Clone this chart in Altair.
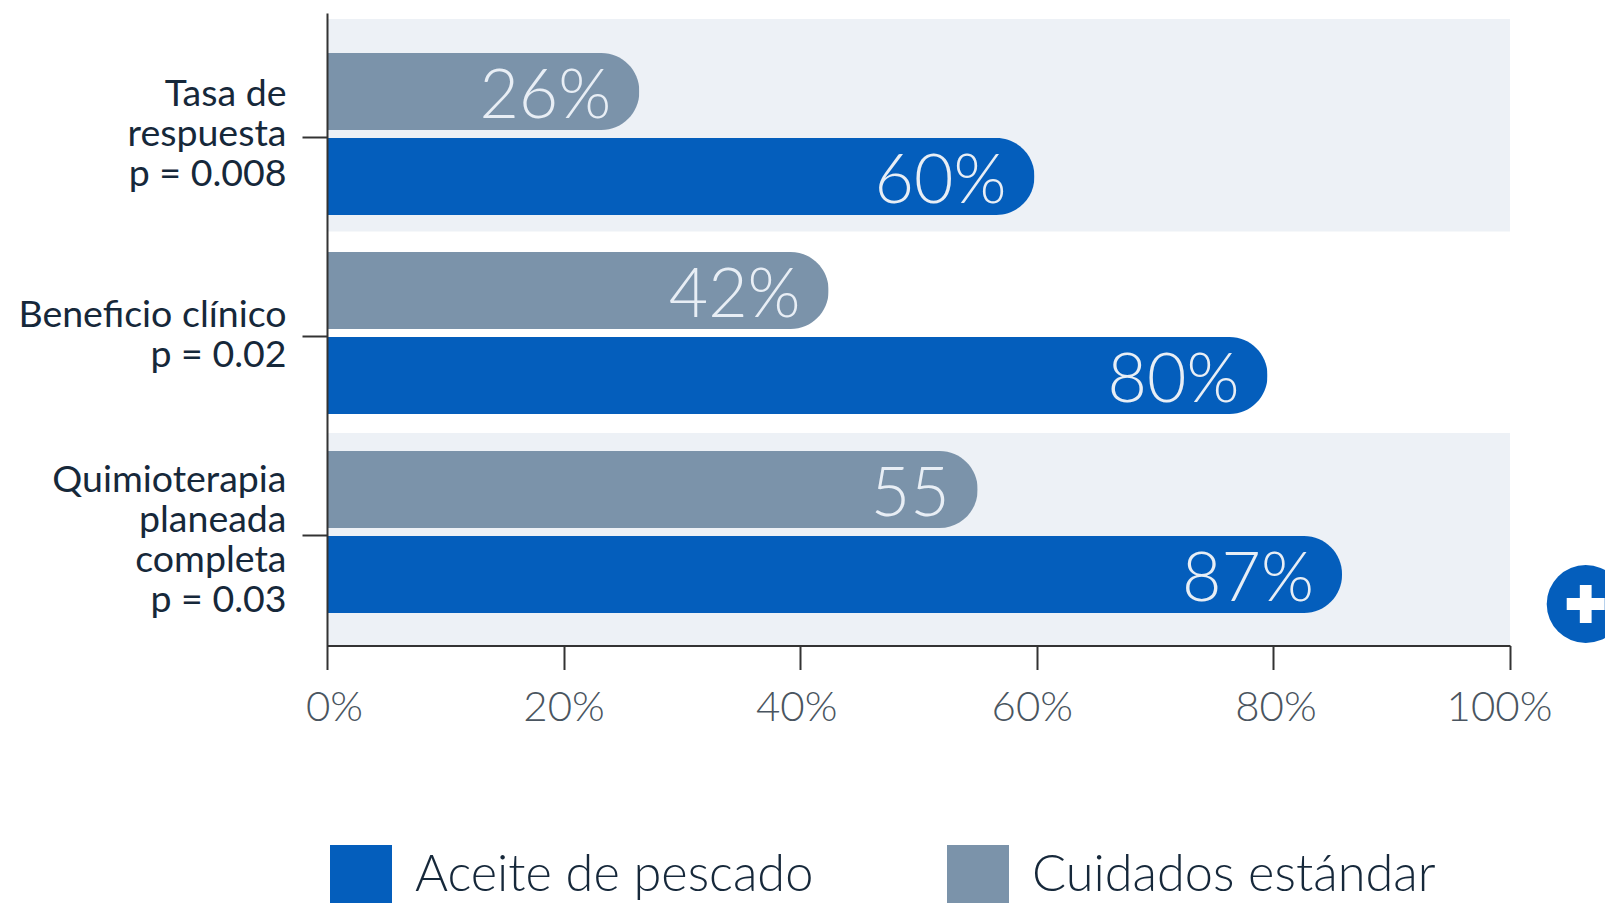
import altair as alt
import pandas as pd

categories = ["Tasa de\nrespuesta\np = 0.008", "Beneficio clínico\np = 0.02", "Quimioterapia\nplaneada\ncompleta\np = 0.03"]
series_names = ["Aceite de pescado", "Cuidados estándar"]
fish_oil = [59.8, 79.5, 85.8]
standard = [26.4, 42.4, 55.0]
fish_oil_labels = ["60%", "80%", "87%"]
standard_labels = ["26%", "42%", "55"]
stripe_rows = ["primera", "tercera"]
stripe_end = [100, 100]
ticks_x = [0, 20, 40, 60, 80, 100]

BLUE = "#045EBC"
GRAY = "#7B93AA"
FONT = "Lato"

rows = []
for c, v, l in zip(categories, fish_oil, fish_oil_labels):
    rows.append({"cat": c, "serie": series_names[0], "valor": v, "etiqueta": l})
for c, v, l in zip(categories, standard, standard_labels):
    rows.append({"cat": c, "serie": series_names[1], "valor": v, "etiqueta": l})
df = pd.DataFrame(rows)

x_scale = alt.Scale(domain=[0, 100], nice=False, zero=True)
x_axis = alt.Axis(
    values=ticks_x, title=None, grid=False, zindex=2,
    labelExpr="datum.value + '%'",
    domainColor="#333333", domainWidth=2, tickColor="#333333", tickWidth=2, tickSize=24,
    labelFont=FONT, labelFontSize=42, labelFontWeight=300, labelColor="#4A5560",
    labelPadding=18, labelFlush=False,
    labelOffset={
        "condition": [
            {"test": "datum.value == 0", "value": 7},
            {"test": "datum.value == 40", "value": -4},
            {"test": "datum.value == 60", "value": -5},
            {"test": "datum.value == 80", "value": 2},
            {"test": "datum.value == 100", "value": -11},
        ],
        "value": 0,
    },
)
y_enc = alt.Y(
    "cat:N",
    sort=categories,
    scale=alt.Scale(domain=categories, paddingInner=0, paddingOuter=0.0892, align=0.606),
    axis=alt.Axis(
        title=None, grid=False, zindex=2, labelExpr="split(datum.label, '\\n')",
        domainColor="#333333", domainWidth=2, tickColor="#333333", tickWidth=2, tickSize=25,
        tickOffset=3,
        labelFont=FONT, labelFontSize=37.5, labelColor="#16283A", labelLineHeight=40,
        labelPadding=16, labelLimit=400, labelAlign="right", labelBaseline="middle",
        labelOffset={
            "condition": [
                {"test": "indexof(datum.value, 'Tasa') >= 0", "value": -43},
                {"test": "indexof(datum.value, 'Quimio') >= 0", "value": -55},
            ],
            "value": -21,
        },
    ),
)
y_off = alt.YOffset(
    "serie:N",
    scale=alt.Scale(domain=[series_names[1], series_names[0]], paddingInner=0.094, paddingOuter=0.2176),
)

stripes = (
    alt.Chart(pd.DataFrame({"fila": stripe_rows, "inicio": [0, 0], "fin": stripe_end}))
    .mark_bar(color="#EDF1F6")
    .encode(
        x=alt.X("inicio:Q", scale=x_scale, axis=x_axis),
        x2="fin:Q",
        y=alt.Y("fila:N", axis=None,
                scale=alt.Scale(domain=stripe_rows, paddingInner=0.4867, paddingOuter=0.00725, align=1)),
    )
)

bars = (
    alt.Chart(df)
    .mark_bar(cornerRadiusEnd=38)
    .encode(
        x=alt.X("valor:Q", scale=x_scale, axis=x_axis),
        y=y_enc, yOffset=y_off,
        color=alt.Color(
            "serie:N",
            scale=alt.Scale(domain=series_names, range=[BLUE, GRAY]),
            legend=alt.Legend(
                title=None, orient="none", legendX=3, legendY=832, columns=2, direction="horizontal",
                symbolType="square", symbolSize=3844, symbolStrokeWidth=0, symbolOpacity=1,
                labelFont=FONT, labelFontSize=50.5, labelFontWeight=300, labelColor="#16283A",
                labelOffset=23, columnPadding=133, padding=0, labelLimit=600,
            ),
        ),
    )
)

labels = (
    alt.Chart(df)
    .mark_text(align="right", baseline="middle", dx=-28, dy=6, font=FONT, fontSize=68, fontWeight=300, color="#E8EEF5")
    .encode(x=alt.X("valor:Q", scale=x_scale), y=alt.Y("cat:N", sort=categories), yOffset=y_off, text="etiqueta:N")
)

plus_circle = (
    alt.Chart(pd.DataFrame({"valor": [106.4]}))
    .mark_point(filled=True, shape="circle", size=6084, color=BLUE, opacity=1)
    .encode(x=alt.X("valor:Q", scale=x_scale), y=alt.value(591))
)
plus_cross = (
    alt.Chart(pd.DataFrame({"valor": [106.4]}))
    .mark_point(filled=True, shape="M-1,-.31H-.31V-1H.31V-.31H1V.31H.31V1H-.31V.31H-1Z", size=1444, color="white", opacity=1)
    .encode(x=alt.X("valor:Q", scale=x_scale), y=alt.value(591))
)

main = alt.layer(bars, labels)
chart = (
    alt.layer(stripes, main, plus_circle, plus_cross)
    .resolve_scale(y="independent", yOffset="independent")
    .properties(
        width=1183, height=632.5,
        autosize=alt.AutoSizeParams(type="none"),
        padding={"left": 319, "top": 5, "right": 95, "bottom": 257.5},
        view=alt.ViewBackground(stroke="transparent", strokeWidth=0),
    )
    .configure_view(strokeWidth=0, stroke="transparent")
    .configure(background="white")
)
chart.save("out.html", embed_options={"renderer": "svg", "actions": False})
